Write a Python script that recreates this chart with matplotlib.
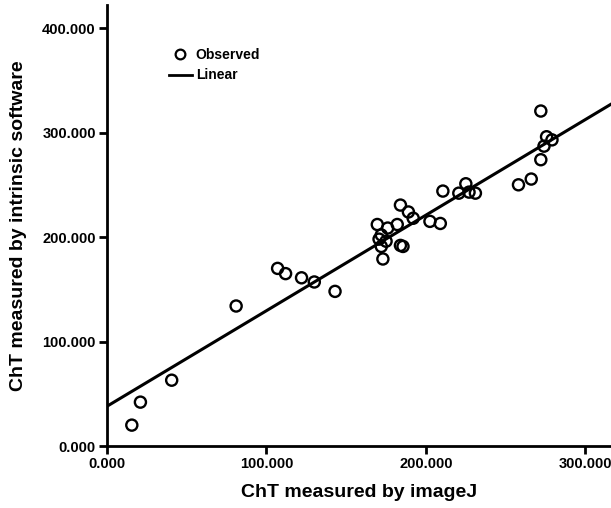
import numpy as np
import matplotlib.pyplot as plt
from matplotlib.lines import Line2D

# valores (imageJ x software intrinseco)
imagej = [15.6, 21, 40.6, 81, 107, 112, 122, 130, 143,
          272, 275.6, 279, 274, 272, 266, 258,
          225, 220.6, 227, 231, 210.6, 202.5, 209,
          184, 189, 192, 182, 176, 169.5, 172, 170.6, 175, 172, 184, 185.6, 173]
intrinseco = [20, 42, 63, 134, 170, 165, 161, 157, 148,
              320.6, 296, 293, 287, 274, 255.5, 250,
              251, 242, 243, 242, 244, 215, 213,
              230.6, 224, 218, 212, 208.6, 212, 202, 198, 196, 191, 192, 191, 179]

# reta ajustada (linear)
intercepto = 38
inclinacao = 0.915

plt.rcParams['font.family'] = ['Liberation Sans', 'DejaVu Sans']
plt.rcParams['font.weight'] = 'bold'

fig = plt.figure(figsize=(6.11, 5.08), dpi=100)
ax = fig.add_axes([0.175, 0.122, 0.825, 0.868])

xlim = (0, 316)
ax.scatter(imagej, intrinseco, s=64, facecolors='none', edgecolors='black',
           linewidths=1.7, zorder=3)
xs = np.array(xlim)
ax.plot(xs, intercepto + inclinacao * xs, color='black', lw=2.2)

ax.set_xlim(*xlim)
ax.set_ylim(0, 422)
ax.set_xticks([0, 100, 200, 300])
ax.set_yticks([0, 100, 200, 300, 400])
ax.set_xticklabels(['0.000', '100.000', '200.000', '300.000'])
ax.set_yticklabels(['0.000', '100.000', '200.000', '300.000', '400.000'])
for s in ['top', 'right']:
  ax.spines[s].set_visible(False)
for s in ['left', 'bottom']:
  ax.spines[s].set_linewidth(2)
ax.tick_params(direction='out', length=6, width=2, labelsize=10.5, pad=2)
for t in ax.get_xticklabels() + ax.get_yticklabels():
  t.set_fontweight('bold')

ax.set_xlabel('ChT measured by imageJ', fontsize=14, fontweight='bold', labelpad=9)
ax.set_ylabel('ChT measured by intrinsic software', fontsize=14, fontweight='bold', labelpad=11)

handles = [Line2D([], [], marker='o', ls='none', mfc='none', mec='black', mew=1.6, ms=7),
           Line2D([], [], color='black', lw=2)]
ax.legend(handles, ['Observed', 'Linear'], loc='upper left', bbox_to_anchor=(0.11, 0.918),
          frameon=False, handlelength=1.6, handletextpad=0.3,
          labelspacing=0.45, borderpad=0, prop={'weight': 'bold', 'size': 10})

fig.savefig('out.png', dpi=100)
plt.close()
